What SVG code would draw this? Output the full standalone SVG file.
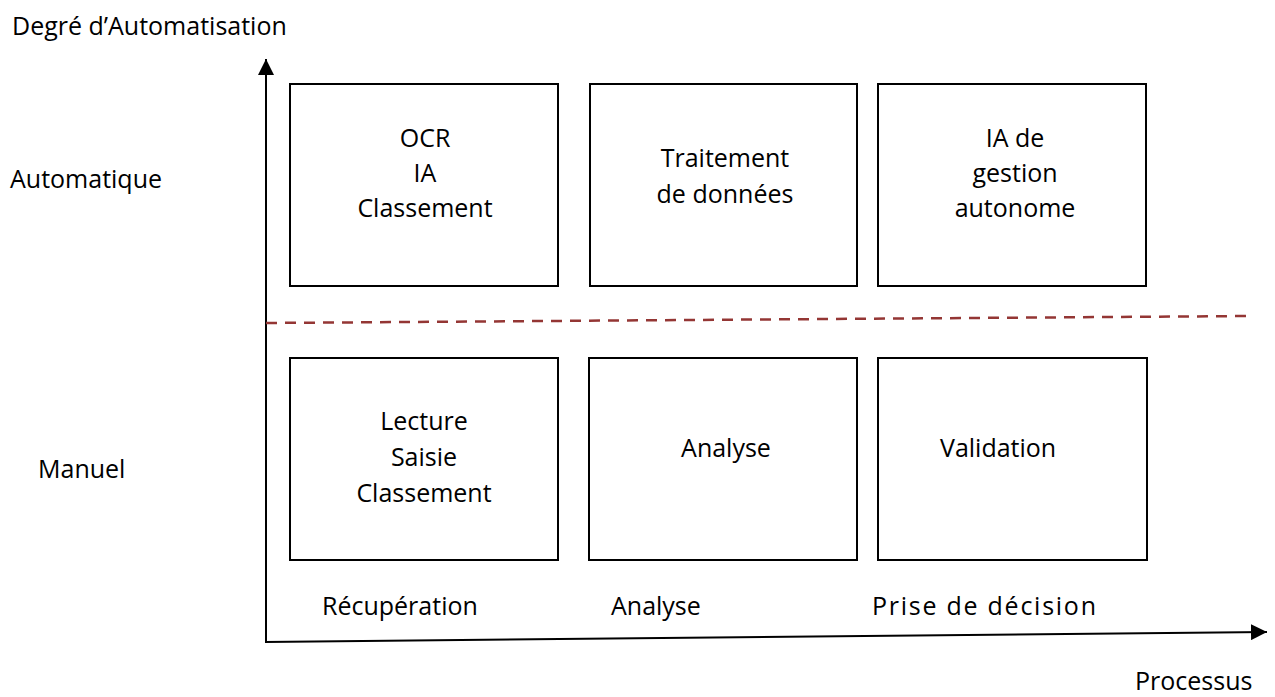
<svg xmlns="http://www.w3.org/2000/svg" width="1275" height="697" viewBox="0 0 1275 697">
<style>
  text { font-family: "Open Sans", "Liberation Sans", sans-serif; font-size: 25px; fill: #000; }
  .c { text-anchor: middle; }
  .box { fill: #fff; stroke: #000; stroke-width: 2; }
  .axis { stroke: #000; stroke-width: 2; fill: none; }
  .dash { stroke: #943634; stroke-width: 2.5; stroke-dasharray: 11 8; fill: none; }
</style>
<defs>
  <marker id="arr" markerUnits="userSpaceOnUse" markerWidth="16" markerHeight="16" refX="16" refY="8" orient="auto" viewBox="0 0 16 16">
    <path d="M0,0 L16,8 L0,16 Z" fill="#000"/>
  </marker>
</defs>
<rect width="1275" height="697" fill="#fff"/>

<g id="labels">
  <text x="12" y="35">Degré d’Automatisation</text>
  <text x="10" y="188">Automatique</text>
  <text x="38" y="478">Manuel</text>
  <text x="322" y="615">Récupération</text>
  <text x="611" y="615">Analyse</text>
  <text x="872" y="615" textLength="224" lengthAdjust="spacing">Prise de décision</text>
  <text x="1135" y="690">Processus</text>
</g>

<g id="connectors">
  <line class="axis" x1="266" y1="643" x2="266" y2="59" marker-end="url(#arr)"/>
  <line class="axis" x1="265" y1="642" x2="1267" y2="632" marker-end="url(#arr)"/>
  <line class="dash" x1="266" y1="323" x2="1250" y2="316"/>
</g>

<g id="box-ocr">
  <rect class="box" x="290" y="84" width="268" height="202"/>
  <text class="c" x="425" y="147">OCR</text>
  <text class="c" x="425" y="182">IA</text>
  <text class="c" x="425" y="217">Classement</text>
</g>
<g id="box-traitement">
  <rect class="box" x="590" y="84" width="267" height="202"/>
  <text class="c" x="725" y="167">Traitement</text>
  <text class="c" x="725" y="203">de données</text>
</g>
<g id="box-ia-gestion">
  <rect class="box" x="878" y="84" width="268" height="202"/>
  <text class="c" x="1015" y="147">IA de</text>
  <text class="c" x="1015" y="182">gestion</text>
  <text class="c" x="1015" y="217">autonome</text>
</g>
<g id="box-lecture">
  <rect class="box" x="290" y="358" width="268" height="202"/>
  <text class="c" x="424" y="430">Lecture</text>
  <text class="c" x="424" y="466">Saisie</text>
  <text class="c" x="424" y="502">Classement</text>
</g>
<g id="box-analyse">
  <rect class="box" x="589" y="358" width="268" height="202"/>
  <text class="c" x="726" y="457">Analyse</text>
</g>
<g id="box-validation">
  <rect class="box" x="878" y="358" width="269" height="202"/>
  <text x="940" y="457">Validation</text>
</g>
</svg>
